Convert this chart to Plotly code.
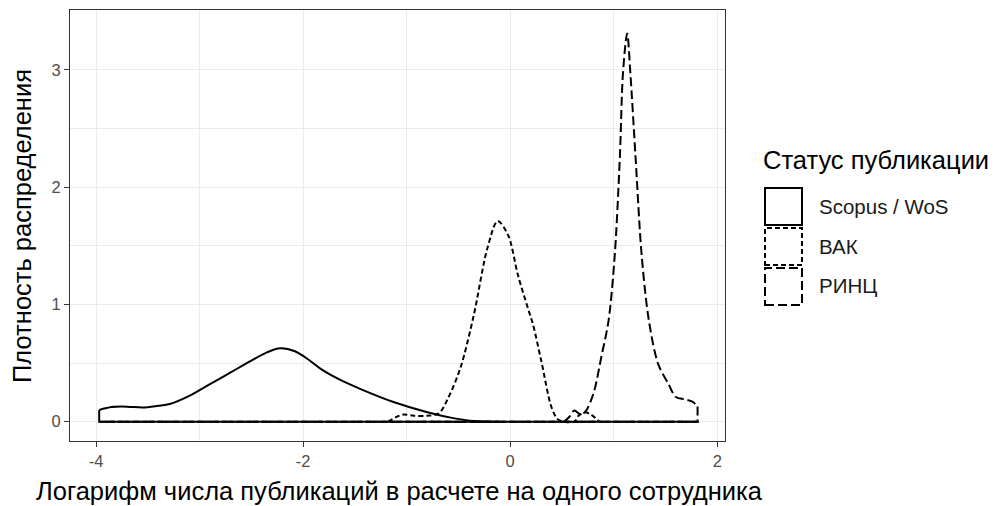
import plotly.graph_objects as go

# ---- data ----
series_names = ["Scopus / WoS", "ВАК", "РИНЦ"]

scopus_x = [-3.97, -3.85, -3.7, -3.55, -3.4, -3.29, -3.1, -2.9, -2.7, -2.5, -2.35, -2.22, -2.08,
            -1.95, -1.83, -1.65, -1.45, -1.12, -0.8, -0.55, -0.35, -0.1, 1.82]
scopus_y = [0.10, 0.125, 0.128, 0.12, 0.135, 0.15, 0.22, 0.32, 0.42, 0.52, 0.59, 0.625, 0.60,
            0.53, 0.45, 0.36, 0.28, 0.165, 0.08, 0.03, 0.005, 0.0, 0.0]

vak_x = [-3.97, -1.18, -1.1, -1.03, -0.93, -0.8, -0.69, -0.6, -0.48, -0.35, -0.22, -0.12,
         -0.02, 0.075, 0.17, 0.22, 0.30, 0.40, 0.46, 0.52, 0.62, 0.66, 0.72, 0.78, 0.86, 1.82]
vak_y = [0.0, 0.0, 0.04, 0.06, 0.05, 0.05, 0.07, 0.2, 0.46, 0.915, 1.48, 1.71,
         1.59, 1.25, 0.97, 0.83, 0.52, 0.12, 0.02, 0.0, 0.0, 0.05, 0.08, 0.06, 0.0, 0.0]

rinc_x = [-3.97, 0.52, 0.57, 0.62, 0.68, 0.73, 0.78, 0.82, 0.88, 0.95, 1.01, 1.06, 1.09, 1.13,
          1.16, 1.21, 1.27, 1.34, 1.43, 1.53, 1.60, 1.69, 1.76, 1.81]
rinc_y = [0.0, 0.0, 0.04, 0.095, 0.06, 0.09, 0.18, 0.29, 0.55, 0.86, 1.42, 2.27, 2.98, 3.31,
          2.98, 2.27, 1.42, 0.86, 0.49, 0.32, 0.21, 0.19, 0.17, 0.13]

x_ticks = [-4, -2, 0, 2]
y_ticks = [0, 1, 2, 3]

x_title = "Логарифм числа публикаций в расчете на одного сотрудника"
y_title = "Плотность распределения"
legend_title = "Статус публикации"

# ---- styling ----
FONT = "Liberation Sans, Arial, sans-serif"
dashes = ["solid", "5px,3px", "9px,4px"]
LW = 2.0
TITLE_FS = 25.5
LABEL_FS = 20.5
TICK_FS = 16.5

W, H = 995, 506
L, R, T, B = 70, 725, 10, 441  # panel pixel box


def px_x(p):
    return (p - L) / (R - L)


def px_y(p):
    return (B - p) / (B - T)


def active_span(ys):
    """indices of the part of a density curve that is off the baseline (plus one zero each side)"""
    i0 = 0
    while i0 + 1 < len(ys) and ys[i0] == 0 and ys[i0 + 1] == 0:
        i0 += 1
    i1 = len(ys) - 1
    while i1 - 1 > 0 and ys[i1] == 0 and ys[i1 - 1] == 0:
        i1 -= 1
    return i0, i1


fig = go.Figure()

all_series = [(scopus_x, scopus_y), (vak_x, vak_y), (rinc_x, rinc_y)]
for name, (xs, ys), dash in zip(series_names, all_series, dashes):
    i0, i1 = active_span(ys)
    # density curve (non-zero part)
    fig.add_trace(go.Scatter(x=xs[i0:i1 + 1], y=ys[i0:i1 + 1], mode="lines", name=name,
                             showlegend=False,
                             line=dict(color="black", width=LW, dash=dash, shape="spline",
                                       smoothing=0.9),
                             hoverinfo="skip"))
    # closing edges of the density polygon (ends and baseline)
    fig.add_trace(go.Scatter(x=[xs[-1], xs[-1], xs[0], xs[0]],
                             y=[ys[-1], 0, 0, ys[0]],
                             mode="lines", showlegend=False,
                             line=dict(color="black", width=LW, dash=dash),
                             hoverinfo="skip"))

# ---- manual legend (ggplot-like keys) ----
shapes = []
annotations = []
key_tops = [188, 228, 268]
label_centres = [206, 246.5, 285.5]
for name, dash, top, cy in zip(series_names, dashes, key_tops, label_centres):
    shapes.append(dict(type="rect", xref="paper", yref="paper",
                       x0=px_x(765), x1=px_x(802), y0=px_y(top + 37), y1=px_y(top),
                       line=dict(color="black", width=LW, dash=dash),
                       fillcolor="rgba(0,0,0,0)"))
    annotations.append(dict(xref="paper", yref="paper", x=px_x(817), y=px_y(cy),
                            text=name, showarrow=False, xanchor="left", yanchor="middle",
                            font=dict(family=FONT, size=LABEL_FS, color="#1a1a1a")))

annotations.append(dict(xref="paper", yref="paper", x=px_x(761), y=px_y(160),
                        text=legend_title, showarrow=False, xanchor="left", yanchor="middle",
                        font=dict(family=FONT, size=TITLE_FS, color="black")))

# axis titles
annotations.append(dict(xref="paper", yref="paper", x=px_x(399), y=px_y(491),
                        text=x_title, showarrow=False, xanchor="center", yanchor="middle",
                        font=dict(family=FONT, size=TITLE_FS, color="black")))
annotations.append(dict(xref="paper", yref="paper", x=px_x(22), y=px_y(226),
                        text=y_title, showarrow=False, xanchor="center", yanchor="middle",
                        textangle=-90,
                        font=dict(family=FONT, size=TITLE_FS, color="black")))

axis_common = dict(showline=True, mirror=True, linecolor="#333333", linewidth=1,
                   ticks="outside", ticklen=5, tickcolor="#333333", tickwidth=1,
                   showgrid=True, gridcolor="#EBEBEB", gridwidth=1.2, zeroline=False,
                   tickfont=dict(family=FONT, size=TICK_FS, color="#4D4D4D"))

fig.update_layout(
    width=W, height=H,
    margin=dict(l=L, r=W - R, t=T, b=H - B),
    paper_bgcolor="white", plot_bgcolor="white",
    showlegend=False,
    xaxis=dict(range=[-4.252, 2.075], tickvals=x_ticks, ticktext=[str(v) for v in x_ticks],
               minor=dict(tickvals=[-3, -1, 1], showgrid=True, gridcolor="#EBEBEB",
                          gridwidth=0.8, ticks=""),
               **axis_common),
    yaxis=dict(range=[-0.165, 3.51], tickvals=y_ticks, ticktext=[str(v) for v in y_ticks],
               minor=dict(tickvals=[0.5, 1.5, 2.5], showgrid=True, gridcolor="#EBEBEB",
                          gridwidth=0.8, ticks=""),
               **axis_common),
    shapes=shapes,
    annotations=annotations,
)

fig.write_html("out.html", config={"displayModeBar": False},
               post_script="document.body.style.margin='0px';document.body.style.overflow='hidden';")
